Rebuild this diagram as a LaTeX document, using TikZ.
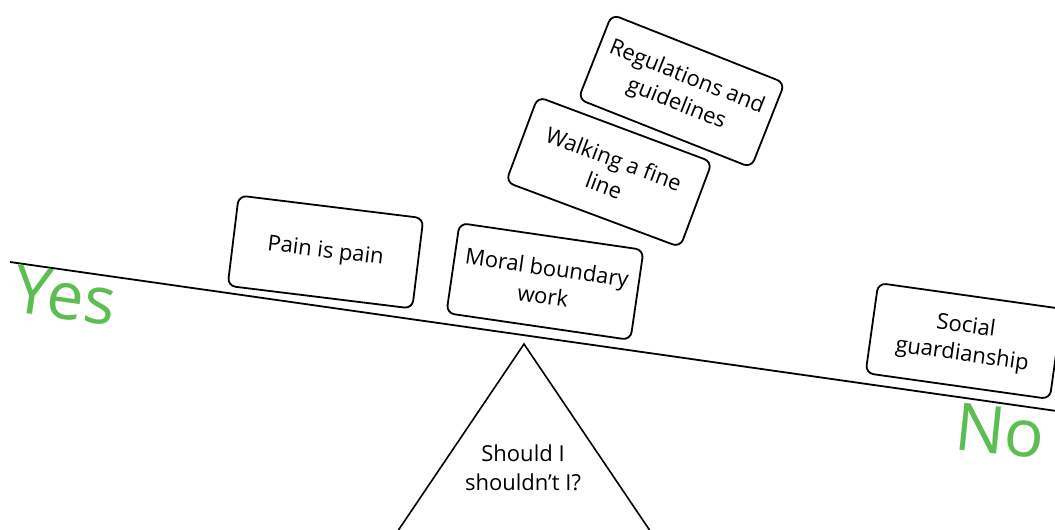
\documentclass[tikz,border=0pt]{standalone}
\usepackage{fontspec}
\setmainfont{Open Sans}
\definecolor{yesno}{RGB}{92,190,82}
\begin{document}
\begin{tikzpicture}[x=1pt,y=-1pt,
  card/.style={draw=black,line width=1.8pt,rounded corners=8pt,fill=white,
    minimum width=186pt,minimum height=91pt,inner sep=2pt,align=center,
    font=\fontsize{22}{28.5}\selectfont},
  label/.style={text=yesno,font=\fontsize{66}{70}\selectfont,inner sep=0pt},
  beam/.style={line width=1.8pt},
  tri/.style={line width=1.6pt}]
\path[use as bounding box] (0,0) rectangle (1055,530);
\clip (0,0) rectangle (1055,530);
% beam
\coordinate (bl) at (10,262);
\coordinate (br) at (1060,411.5);
\draw[beam] (bl) -- (br);
% fulcrum
\coordinate (apex) at (524,344);
\coordinate (tl) at (385,550);
\coordinate (tr) at (663,550);
\draw[tri] (tl) -- (apex) -- (tr);
\node[align=center,font=\fontsize{22}{28.5}\selectfont,inner sep=0pt] (q) at (523,468) {Should I\\shouldn’t I?};
% cards
\node[card,rotate=-7] (pain) at (325.5,252) {Pain is pain};
\node[card,rotate=-8.3] (moral) at (545,281.5) {Moral boundary\\work};
\node[card,rotate=-20.5] (walk) at (609,172) {Walking a fine\\line};
\node[card,rotate=-21.6] (reg) at (681.5,91) {Regulations and\\guidelines};
\node[card,rotate=-8] (social) at (964,341) {Social\\guardianship};
% labels
\node[label,rotate=-8] (yes) at (65,296) {Yes};
\node[label,rotate=-6] (no) at (1000,431) {No};
\end{tikzpicture}
\end{document}
